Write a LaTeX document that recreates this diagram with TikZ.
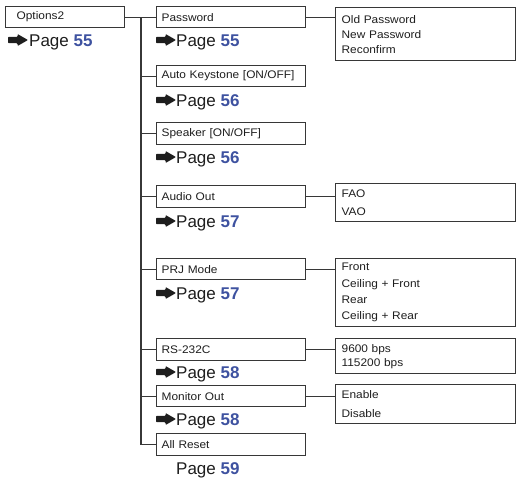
\documentclass[tikz,border=0pt]{standalone}
\usepackage{fontspec}
\setmainfont{Liberation Sans}
\newfontfamily\boxfont[FakeStretch=1.08]{Liberation Sans}
\definecolor{ln}{RGB}{55,55,55}
\definecolor{txt}{RGB}{30,30,30}
\definecolor{pg}{RGB}{62,82,160}
\newcommand\pnum[1]{\textcolor{pg}{\textbf{#1}}}
\tikzset{
  box/.style={draw=ln, line width=1.3pt, anchor=north west, inner ysep=0pt,
    align=left, text=txt, font=\boxfont\fontsize{11}{#1}\selectfont},
  box/.default=13,
  pglabel/.style={anchor=base west, inner sep=0pt, text=txt,
    font=\fontsize{17}{20}\selectfont},
  conn/.style={draw=ln, line width=1.2pt},
  parr/.pic={\fill[txt, rounded corners=0.8pt] (0,-3.2) -- (9.5,-3.2) -- (9.5,-6) -- (20,0) -- (9.5,6) -- (9.5,3.2) -- (0,3.2) -- cycle;}
}
\begin{document}
\begin{tikzpicture}[x=1pt,y=-1pt]
\useasboundingbox (0,0) rectangle (518,479);
% level 1
\node[box, text width=97, inner xsep=11, minimum height=21] (opt) at (5,6) {Options2};
\pic at (8,40) {parr};
\node[pglabel] (p0) at (29,46) {Page \pnum{55}};
% level 2
\node[box, text width=139, inner xsep=5, minimum height=21] (pw)  at (156,6)   {Password};
\node[box, text width=139, inner xsep=5, minimum height=21] (ak)  at (156,65)  {Auto Keystone [ON/OFF]};
\node[box, text width=139, inner xsep=5, minimum height=22] (sp)  at (156,122) {Speaker [ON/OFF]};
\node[box, text width=139, inner xsep=5, minimum height=22] (ao)  at (156,185) {Audio Out};
\node[box, text width=139, inner xsep=5, minimum height=21] (prj) at (156,258) {PRJ Mode};
\node[box, text width=139, inner xsep=5, minimum height=22] (rs)  at (156,338) {RS-232C};
\node[box, text width=139, inner xsep=5, minimum height=21] (mo)  at (156,385) {Monitor Out};
\node[box, text width=139, inner xsep=5, minimum height=22] (ar)  at (156,433) {All Reset};
% page references
\pic at (156,40)  {parr}; \node[pglabel] (p1) at (176,46)  {Page \pnum{55}};
\pic at (156,100) {parr}; \node[pglabel] (p2) at (176,106) {Page \pnum{56}};
\pic at (156,157) {parr}; \node[pglabel] (p3) at (176,163) {Page \pnum{56}};
\pic at (156,221) {parr}; \node[pglabel] (p4) at (176,227) {Page \pnum{57}};
\pic at (156,293) {parr}; \node[pglabel] (p5) at (176,299) {Page \pnum{57}};
\pic at (156,372) {parr}; \node[pglabel] (p6) at (176,378) {Page \pnum{58}};
\pic at (156,419) {parr}; \node[pglabel] (p7) at (176,425) {Page \pnum{58}};
\node[pglabel] (p8) at (176,474) {Page \pnum{59}};
% level 3
\node[box=15,   text width=168, inner xsep=6, minimum height=53] (pws) at (335,7)   {Old Password\\New Password\\Reconfirm};
\node[box=18,   text width=168, inner xsep=6, minimum height=38] (aos) at (335,183) {FAO\\VAO};
\node[box=16.3, text width=168, inner xsep=6, minimum height=68] (prs) at (335,258) {Front\\Ceiling + Front\\Rear\\Ceiling + Rear};
\node[box=14,   text width=168, inner xsep=6, minimum height=35] (rss) at (335,338) {9600 bps\\115200 bps};
\node[box=19,   text width=168, inner xsep=6, minimum height=39] (mos) at (335,384) {Enable\\Disable};
% connectors
\draw[conn] (opt.east) -- (pw.west);
\coordinate (t) at (141,0);
\draw[conn] (t |- pw.west) |- (ar.west);
\foreach \n in {ak,sp,ao,prj,rs,mo}{\draw[conn] (t |- \n.west) -- (\n.west);}
\draw[conn] (pw.east)  -- (pw.east -| pws.west);
\draw[conn] (ao.east)  -- (ao.east -| aos.west);
\draw[conn] (prj.east) -- (prj.east -| prs.west);
\draw[conn] (rs.east)  -- (rs.east -| rss.west);
\draw[conn] (mo.east)  -- (mo.east -| mos.west);
\end{tikzpicture}
\end{document}
